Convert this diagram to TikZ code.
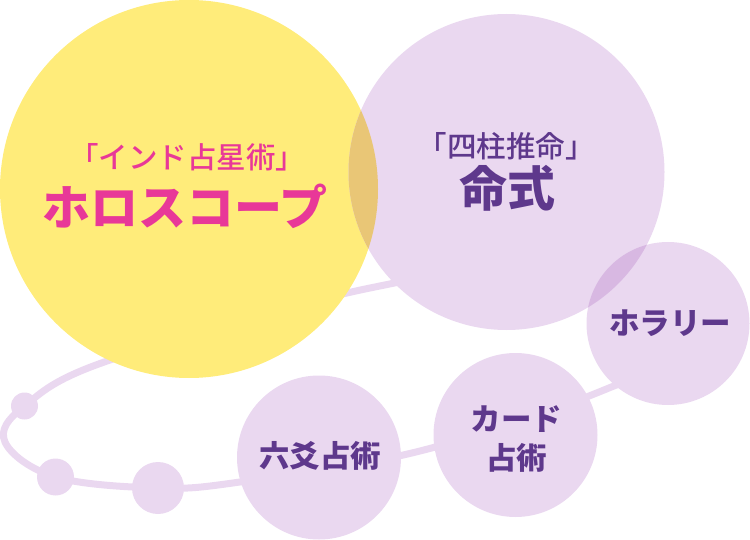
\documentclass[tikz,border=0pt]{standalone}
\usepackage{fontspec}
\setmainfont{Noto Sans CJK JP}
\newfontfamily\jpmed{Noto Sans CJK JP Medium}
\usepackage{tikz}
\definecolor{yl}{RGB}{255, 236, 122}
\definecolor{pu}{RGB}{234, 216, 240}
\definecolor{ovy}{RGB}{233, 198, 118}
\definecolor{ovp}{RGB}{216, 184, 226}
\definecolor{mg}{RGB}{232, 56, 152}
\definecolor{dp}{RGB}{94, 56, 140}

\begin{document}
\begin{tikzpicture}[every node/.style={inner sep=0pt},
  ball/.style={circle, fill=pu},
  orbit/.style={line width=7pt, color=pu},
  sublabel/.style={font=\jpmed\fontsize{29.5}{32}\selectfont},
  biglabel/.style={font=\bfseries\fontsize{48}{52}\selectfont},
  namelabel/.style={font=\bfseries\fontsize{30.5}{39}\selectfont, text=dp, align=center}]
\useasboundingbox (0pt, 0pt) rectangle (750pt, -540pt);
\node (s1) [ball, minimum size=27pt] at (24.5pt, -406pt) {};
\node (s2) [ball, minimum size=37pt] at (55.5pt, -477pt) {};
\node (s3) [ball, minimum size=52pt] at (158pt, -488pt) {};
\coordinate (w) at (5pt, -442pt);
\coordinate (a) at (240pt, -482pt);
\coordinate (b) at (420pt, -451pt);
\coordinate (c) at (604pt, -390pt);
\coordinate (e) at (700pt, -335pt);
\coordinate (f) at (560pt, -268pt);
\coordinate (g) at (370pt, -288pt);
\coordinate (h) at (110pt, -360pt);
\draw [orbit] plot [smooth cycle, tension=0.6] coordinates {(s1.center) (w) (s2.center) (s3.center) (a) (b) (c) (e) (f) (g) (h)};
\node (horo) [circle, minimum size=378pt, fill=yl] at (189pt, -189pt) {};
\node (meishiki) [ball, minimum size=316pt] at (506.5pt, -172pt) {};
\node (horary) [ball, minimum size=163pt] at (668pt, -323.5pt) {};
\node (card) [ball, minimum size=164pt] at (515.5pt, -435pt) {};
\node (rikko) [ball, minimum size=164pt] at (319pt, -457.5pt) {};
% overlaps
\begin{scope}
\clip (horo.center) circle (189pt);
\fill [ovy] (meishiki.center) circle (158pt);
\end{scope}
\begin{scope}
\clip (horary.center) circle (81.5pt);
\fill [ovp] (meishiki.center) circle (158pt);
\end{scope}
\node (horo-sub) [sublabel, text=mg] at (187pt, -157pt) {「インド占星術」};
\node (horo-name) [biglabel, text=mg] at (185pt, -206pt) {ホロスコープ};
\node (meishiki-sub) [sublabel, text=dp] at (506pt, -146pt) {「四柱推命」};
\node (meishiki-name) [biglabel, text=dp] at (507pt, -188pt) {命式};
\node (horary-name) [namelabel] at (670pt, -323pt) {ホラリー};
\node (card-name) [namelabel] at (516.5pt, -439.5pt) {カード\\占術};
\node (rikko-name) [namelabel] at (320pt, -456pt) {六爻占術};
\end{tikzpicture}
\end{document}
